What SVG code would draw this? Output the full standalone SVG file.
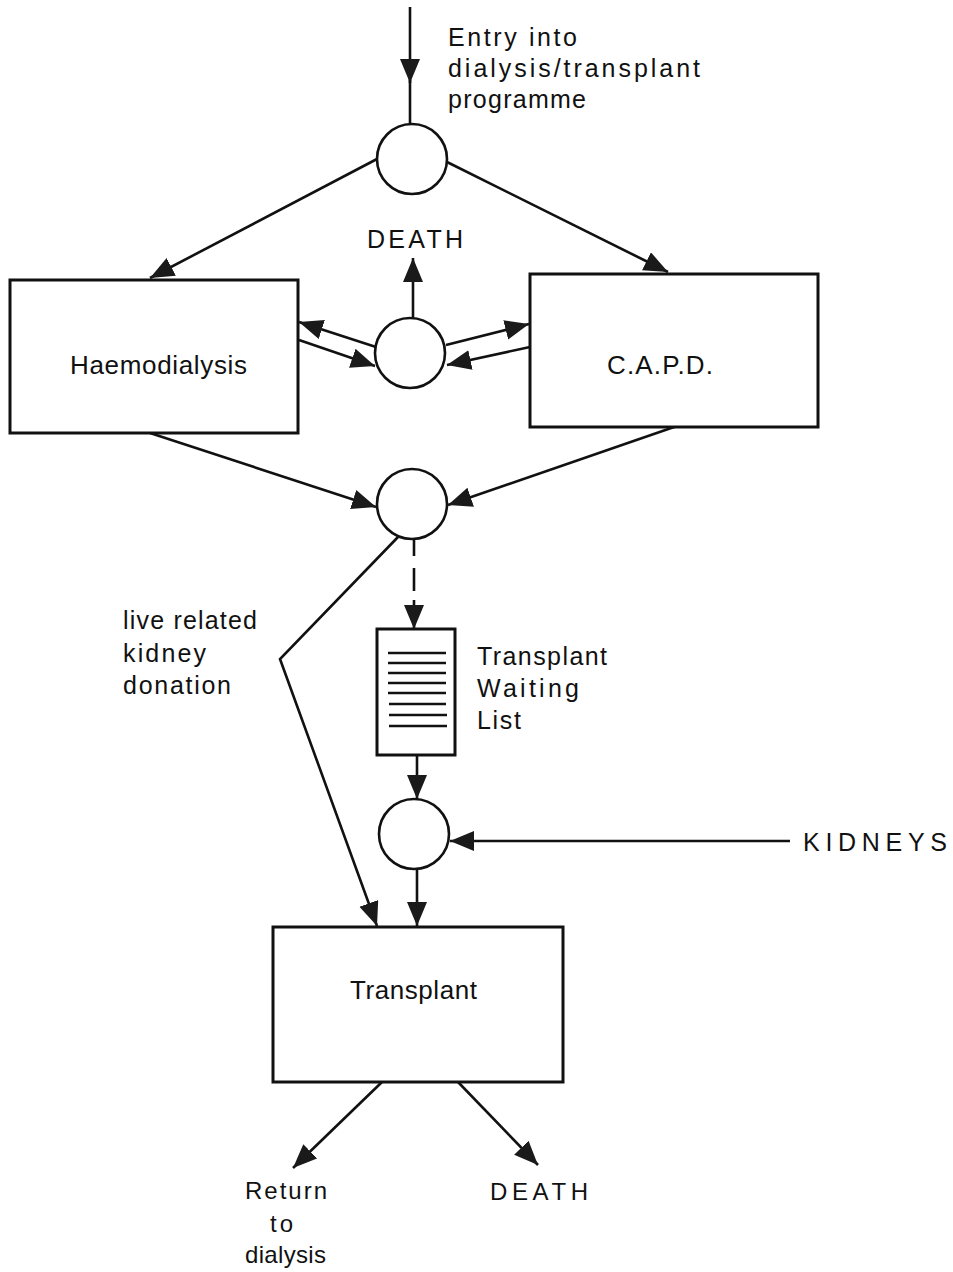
<svg xmlns="http://www.w3.org/2000/svg" width="953" height="1272" viewBox="0 0 953 1272">
  <style>
    .box { fill: #fff; stroke: #111; stroke-width: 3; }
    .node { fill: #fff; stroke: #111; stroke-width: 2.6; }
    .edge { fill: none; stroke: #111; stroke-width: 2.6; }
    .arrow { marker-end: url(#head); }
    .rule { stroke: #111; stroke-width: 2.4; }
    text { font-family: "Liberation Sans", Arial, sans-serif; font-size: 25px; fill: #111; }
    .lbl { font-size: 26px; }
    .small { font-size: 24px; }
  </style>
  <defs>
    <marker id="head" markerUnits="userSpaceOnUse" markerWidth="26" markerHeight="22" refX="24" refY="10" orient="auto">
      <path d="M0,0 L24,10 L0,20 Z" fill="#1a1a1a"/>
    </marker>
  </defs>

  <rect width="953" height="1272" fill="#fff"/>

  <!-- connectors -->
  <g id="connectors">
    <!-- entry into the programme -->
    <path class="edge arrow" d="M410,7 V83"/>
    <path class="edge" d="M410,80 V124"/>
    <!-- split to the two dialysis modes -->
    <path class="edge arrow" d="M377,159 L150,278"/>
    <path class="edge arrow" d="M447,162 L668,272"/>
    <!-- death from dialysis -->
    <path class="edge arrow" d="M413,318 V258"/>
    <!-- transfers between modes -->
    <path class="edge arrow" d="M376,347 L299,322"/>
    <path class="edge arrow" d="M299,340 L375,366"/>
    <path class="edge arrow" d="M446,345 L529,324"/>
    <path class="edge arrow" d="M530,347 L447,365"/>
    <!-- dialysis to assessment -->
    <path class="edge arrow" d="M150,433 L376,507"/>
    <path class="edge arrow" d="M677,426 L448,505"/>
    <!-- onto waiting list (dashed) -->
    <path class="edge" d="M414,540 V556 M414,568 V591"/>
    <path class="edge arrow" d="M414,600 V629"/>
    <!-- live related donation -->
    <path class="edge arrow" d="M398,537 L280,659 L377,926"/>
    <!-- list to matching -->
    <path class="edge arrow" d="M417,755 V799"/>
    <!-- kidneys supply -->
    <path class="edge arrow" d="M790,841 H450"/>
    <!-- matched to transplant -->
    <path class="edge arrow" d="M417,869 V926"/>
    <!-- outcomes of transplant -->
    <path class="edge arrow" d="M382,1082 L293,1168"/>
    <path class="edge arrow" d="M458,1082 L538,1165"/>
  </g>

  <g id="entry-label">
    <text x="448" y="46" textLength="129" lengthAdjust="spacing">Entry into</text>
    <text x="448" y="77" textLength="252" lengthAdjust="spacing">dialysis/transplant</text>
    <text x="448" y="108" textLength="138" lengthAdjust="spacing">programme</text>
  </g>

  <g id="start">
    <circle class="node" cx="412" cy="159" r="35"/>
  </g>

  <g id="death-dialysis">
    <text x="367" y="248" textLength="96" lengthAdjust="spacing">DEATH</text>
  </g>

  <g id="haemodialysis">
    <rect class="box" x="10" y="280" width="288" height="153"/>
    <text class="lbl" x="70" y="374" textLength="177" lengthAdjust="spacing">Haemodialysis</text>
  </g>

  <g id="capd">
    <rect class="box" x="530" y="274" width="288" height="153"/>
    <text class="lbl" x="607" y="374" textLength="106" lengthAdjust="spacing">C.A.P.D.</text>
  </g>

  <g id="transfer">
    <circle class="node" cx="410" cy="353" r="35"/>
  </g>

  <g id="assessment">
    <circle class="node" cx="412" cy="504" r="35"/>
  </g>

  <g id="live-donation-label">
    <text x="123" y="629" textLength="134" lengthAdjust="spacing">live related</text>
    <text x="123" y="662" textLength="83" lengthAdjust="spacing">kidney</text>
    <text x="123" y="694" textLength="108" lengthAdjust="spacing">donation</text>
  </g>

  <g id="waiting-list">
    <rect class="box" x="377" y="629" width="78" height="126"/>
    <g class="rule">
      <line x1="388" y1="653" x2="446" y2="653"/>
      <line x1="388" y1="663" x2="446" y2="663"/>
      <line x1="388" y1="673" x2="446" y2="673"/>
      <line x1="388" y1="683" x2="446" y2="683"/>
      <line x1="388" y1="693" x2="446" y2="693"/>
      <line x1="389" y1="704" x2="446" y2="704"/>
      <line x1="389" y1="715" x2="447" y2="715"/>
      <line x1="389" y1="726" x2="447" y2="726"/>
    </g>
    <text x="477" y="665" textLength="130" lengthAdjust="spacing">Transplant</text>
    <text x="477" y="697" textLength="102" lengthAdjust="spacing">Waiting</text>
    <text x="477" y="729" textLength="44" lengthAdjust="spacing">List</text>
  </g>

  <g id="matching">
    <circle class="node" cx="414" cy="834" r="35"/>
  </g>

  <g id="kidneys">
    <text x="803" y="851" textLength="144" lengthAdjust="spacing">KIDNEYS</text>
  </g>

  <g id="transplant">
    <rect class="box" x="273" y="927" width="290" height="155"/>
    <text class="lbl" x="350" y="999" textLength="127" lengthAdjust="spacing">Transplant</text>
  </g>

  <g id="return-to-dialysis">
    <text class="small" x="245" y="1199" textLength="82" lengthAdjust="spacing">Return</text>
    <text class="small" x="270" y="1232" textLength="23" lengthAdjust="spacing">to</text>
    <text class="small" x="245" y="1263" textLength="81" lengthAdjust="spacing">dialysis</text>
  </g>

  <g id="death-transplant">
    <text class="small" x="490" y="1200" textLength="98" lengthAdjust="spacing">DEATH</text>
  </g>
</svg>
